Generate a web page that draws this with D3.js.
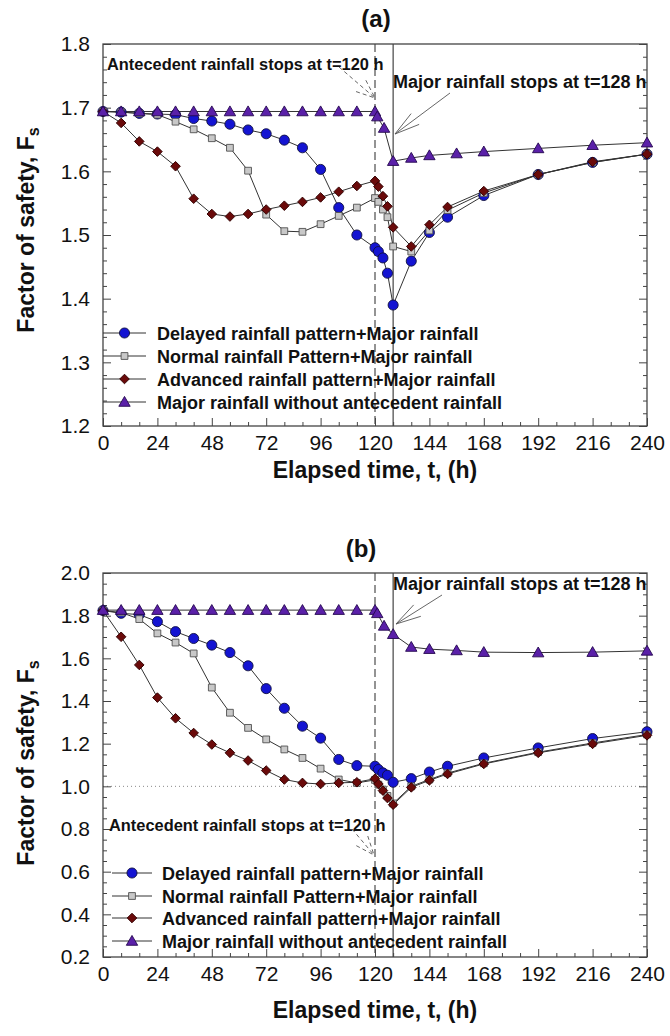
<!DOCTYPE html>
<html><head><meta charset="utf-8">
<script src="https://cdn.jsdelivr.net/npm/d3@7"></script>
<style>body{margin:0;background:#fff;} text{font-family:"Liberation Sans",Arial,sans-serif;}</style>
</head><body>
<script>
// ---------------- DATA ----------------
const timesMain = [0,8,16,24,32,40,48,56,64,72,80,88,96,104,112,120,121.5,123.5,125.5,128,136,144,152,168,192,216,240];
const timesMajor = [0,8,16,24,32,40,48,56,64,72,80,88,96,104,112,120,121,124,128,136,144,156,168,192,216,240];
const xTicks = [0,24,48,72,96,120,144,168,192,216,240];
const seriesNames = ["Delayed rainfall pattern+Major rainfall","Normal rainfall Pattern+Major rainfall","Advanced rainfall pattern+Major rainfall","Major rainfall without antecedent rainfall"];

// Panel (a)
const delayedA  = [1.694,1.693,1.691,1.690,1.689,1.683,1.679,1.674,1.665,1.659,1.649,1.637,1.603,1.543,1.500,1.480,1.474,1.464,1.440,1.390,1.459,1.504,1.528,1.562,1.595,1.614,1.627];
const normalA   = [1.694,1.693,1.691,1.689,1.678,1.666,1.652,1.637,1.601,1.532,1.506,1.505,1.517,1.530,1.543,1.558,1.552,1.540,1.528,1.482,1.474,1.507,1.539,1.566,1.595,1.614,1.627];
const advancedA = [1.694,1.676,1.647,1.631,1.608,1.557,1.533,1.529,1.533,1.540,1.546,1.552,1.559,1.568,1.577,1.585,1.576,1.561,1.545,1.512,1.482,1.516,1.544,1.569,1.595,1.615,1.627];
const majorA    = [1.694,1.694,1.694,1.694,1.694,1.694,1.694,1.694,1.694,1.694,1.694,1.694,1.694,1.694,1.694,1.694,1.686,1.668,1.616,1.621,1.625,1.628,1.631,1.636,1.641,1.645];
const yTicksA = [1.2,1.3,1.4,1.5,1.6,1.7,1.8];

// Panel (b)
const delayedB  = [1.824,1.811,1.805,1.772,1.725,1.693,1.662,1.627,1.565,1.458,1.366,1.282,1.226,1.126,1.097,1.094,1.079,1.063,1.052,1.019,1.036,1.067,1.094,1.133,1.180,1.224,1.256];
const normalB   = [1.824,1.815,1.784,1.717,1.674,1.623,1.463,1.345,1.274,1.220,1.173,1.133,1.083,1.032,1.016,1.030,1.008,0.985,0.955,0.920,1.000,1.032,1.062,1.108,1.160,1.203,1.243];
const advancedB = [1.824,1.701,1.569,1.416,1.319,1.250,1.196,1.157,1.121,1.074,1.032,1.016,1.011,1.016,1.019,1.036,1.011,0.980,0.945,0.914,0.995,1.028,1.058,1.105,1.157,1.199,1.239];
const majorB    = [1.826,1.826,1.826,1.826,1.826,1.826,1.826,1.826,1.826,1.826,1.826,1.826,1.826,1.826,1.826,1.826,1.811,1.752,1.713,1.653,1.643,1.637,1.629,1.627,1.629,1.635];
const yTicksB = [0.2,0.4,0.6,0.8,1.0,1.2,1.4,1.6,1.8,2.0];

// ---------------- DRAW ----------------
const W = 670, H = 1036;
const svg = d3.select("body").append("svg").attr("width", W).attr("height", H);

const styles = [
  {type:"circle",  fill:"#1414d2", stroke:"#101040", size:80},
  {type:"square",  fill:"#c8c8c8", stroke:"#505050", size:46},
  {type:"diamond", fill:"#6a0a0a", stroke:"#300000", size:46},
  {type:"triangle",fill:"#5a20a8", stroke:"#25084f", size:56}
];
function symPath(st){
  if(st.type==="circle") return d3.symbol(d3.symbolCircle, st.size)();
  if(st.type==="square" || st.type==="diamond") return d3.symbol(d3.symbolSquare, st.size)();
  return d3.symbol(d3.symbolTriangle, st.size)();
}
function marker(g, x, y, st){
  g.append("path").attr("d", symPath(st))
    .attr("transform", `translate(${x},${y})` + (st.type==="diamond" ? " rotate(45)" : (st.type==="triangle" ? " translate(0,1)" : "")))
    .attr("fill", st.fill).attr("stroke", st.stroke).attr("stroke-width", 0.9);
}
function arrow(g, tail, tip, len, ang, dashed){
  const a = Math.atan2(tail[1]-tip[1], tail[0]-tip[0]);
  const p = g.append("g").attr("stroke","#555").attr("stroke-width",0.9).attr("fill","none");
  if(dashed) p.attr("stroke-dasharray","4,3");
  p.append("line").attr("x1",tail[0]).attr("y1",tail[1]).attr("x2",tip[0]).attr("y2",tip[1]);
  [ang,-ang].forEach(d=>{
    const b = a + d*Math.PI/180;
    p.append("line").attr("x1",tip[0]+len*Math.cos(b)).attr("y1",tip[1]+len*Math.sin(b)).attr("x2",tip[0]).attr("y2",tip[1]);
  });
}

function panel(cfg){
  const g = svg.append("g");
  const x = d3.scaleLinear().domain([0,240]).range([103,647]);
  const y = d3.scaleLinear().domain(cfg.yDomain).range([cfg.bottom, cfg.top]);
  const L = x.range()[0], R = x.range()[1];

  // reference lines
  if(cfg.dotted != null){
    g.append("line").attr("x1",L).attr("x2",R).attr("y1",y(cfg.dotted)).attr("y2",y(cfg.dotted))
      .attr("stroke","#888").attr("stroke-width",1).attr("stroke-dasharray","1,3");
  }
  g.append("line").attr("x1",x(120)).attr("x2",x(120)).attr("y1",cfg.top).attr("y2",cfg.bottom)
    .attr("stroke","#666").attr("stroke-width",1.4).attr("stroke-dasharray","8,4");
  g.append("line").attr("x1",x(128)).attr("x2",x(128)).attr("y1",cfg.top).attr("y2",cfg.bottom)
    .attr("stroke","#444").attr("stroke-width",1.2);

  // axes
  const minorX = d3.range(0,241,8).filter(v=>v%24!==0);
  const axB = g.append("g").attr("transform",`translate(0,${cfg.bottom})`)
    .call(d3.axisBottom(x).tickValues(xTicks).tickSizeInner(-8).tickSizeOuter(0).tickPadding(9).tickFormat(d3.format("d")));
  g.append("g").attr("transform",`translate(0,${cfg.bottom})`)
    .call(d3.axisBottom(x).tickValues(minorX).tickSizeInner(-4).tickSizeOuter(0).tickFormat(""));
  const axL = g.append("g").attr("transform",`translate(${L},0)`)
    .call(d3.axisLeft(y).tickValues(cfg.yTicks).tickSizeInner(-8).tickSizeOuter(0).tickPadding(13).tickFormat(d3.format(".1f")));
  g.append("g").attr("transform",`translate(${L},0)`)
    .call(d3.axisLeft(y).tickValues(cfg.yMinor).tickSizeInner(-4).tickSizeOuter(0).tickFormat(""));
  g.append("g").attr("transform",`translate(${R},0)`)
    .call(d3.axisRight(y).tickValues(cfg.yTicks).tickSizeInner(-8).tickSizeOuter(0).tickFormat(""));
  g.append("g").attr("transform",`translate(${R},0)`)
    .call(d3.axisRight(y).tickValues(cfg.yMinor).tickSizeInner(-4).tickSizeOuter(0).tickFormat(""));
  g.selectAll(".domain").remove();
  g.selectAll(".tick line").attr("stroke","#444");
  [axB, axL].forEach(a=>a.selectAll("text").attr("font-size",21).attr("fill","#111")
    .attr("font-family","'Liberation Sans',Arial,sans-serif"));
  g.append("rect").attr("x",L).attr("y",cfg.top).attr("width",R-L).attr("height",cfg.bottom-cfg.top)
    .attr("fill","none").attr("stroke","#444").attr("stroke-width",1.3);

  // series
  const series = [
    {t:timesMain, v:cfg.data[0], st:styles[0]},
    {t:timesMain, v:cfg.data[1], st:styles[1]},
    {t:timesMain, v:cfg.data[2], st:styles[2]},
    {t:timesMajor, v:cfg.data[3], st:styles[3]}
  ];
  const line = d3.line().x(d=>x(d[0])).y(d=>y(d[1]));
  series.forEach(s=>{
    const pts = s.t.map((t,i)=>[t, s.v[i]]);
    g.append("path").attr("d", line(pts)).attr("fill","none").attr("stroke","#333").attr("stroke-width",1);
  });
  series.forEach(s=>{
    s.t.forEach((t,i)=>marker(g, x(t), y(s.v[i]), s.st));
  });

  // legend
  cfg.legendY.forEach((ly,i)=>{
    g.append("line").attr("x1",cfg.legX0).attr("x2",cfg.legX1).attr("y1",ly).attr("y2",ly).attr("stroke","#333").attr("stroke-width",1);
    marker(g, (cfg.legX0+cfg.legX1)/2, ly, styles[i]);
    g.append("text").attr("x",cfg.legText).attr("y",ly+6.5).attr("font-size",18).attr("font-weight","bold")
      .attr("fill","#111").text(seriesNames[i]);
  });

  // annotations
  g.append("text").attr("x",cfg.antText[0]).attr("y",cfg.antText[1]).attr("font-size",16.4).attr("font-weight","bold")
    .attr("fill","#111").text("Antecedent rainfall stops at t=120 h");
  arrow(g, cfg.antArrow[0], cfg.antArrow[1], 20, 22, true);
  g.append("text").attr("x",cfg.majText[0]).attr("y",cfg.majText[1]).attr("font-size",18).attr("font-weight","bold")
    .attr("fill","#111").text("Major rainfall stops at t=128 h");
  arrow(g, cfg.majArrow[0], cfg.majArrow[1], 26, 15, false);

  // titles
  g.append("text").attr("x",cfg.titleX).attr("y",cfg.titleY).attr("text-anchor","middle")
    .attr("font-size",24).attr("font-weight","bold").attr("fill","#111").text(cfg.title);
  g.append("text").attr("x",(L+R)/2).attr("y",cfg.bottom+cfg.xTitleGap).attr("text-anchor","middle")
    .attr("font-size",23).attr("font-weight","bold").attr("fill","#111").text("Elapsed time, t, (h)");
  const yt = g.append("text").attr("transform",`translate(34,${cfg.yTitleY}) rotate(-90)`).attr("text-anchor","middle")
    .attr("font-size",23).attr("font-weight","bold").attr("fill","#111");
  yt.append("tspan").text("Factor of safety, F");
  yt.append("tspan").attr("font-size",16).attr("dy",5).text("s");
}

panel({
  yDomain:[1.2,1.8], top:44, bottom:426, yTicks:yTicksA,
  yMinor:d3.range(60,91,1).filter(v=>v%5!==0).map(v=>v/50),
  data:[delayedA, normalA, advancedA, majorA],
  legendY:[333,356,379,402], legX0:103, legX1:146, legText:157,
  antText:[107,70], antArrow:[[339,67],[375,98]],
  majText:[393,88], majArrow:[[450,93],[395,134]],
  title:"(a)", titleX:376, titleY:27, yTitleY:230, dotted:null, xTitleGap:52
});
panel({
  yDomain:[0.2,2.0], top:573, bottom:957, yTicks:yTicksB,
  yMinor:d3.range(4,41,1).filter(v=>v%4!==0).map(v=>v/20),
  data:[delayedB, normalB, advancedB, majorB],
  legendY:[873,896,918,941], legX0:112, legX1:152, legText:162,
  antText:[109,831], antArrow:[[352,829],[374,855]],
  majText:[393,590], majArrow:[[442,595],[396,624]],
  title:"(b)", titleX:361, titleY:557, yTitleY:763, dotted:1.0, xTitleGap:61
});
</script>
</body></html>
